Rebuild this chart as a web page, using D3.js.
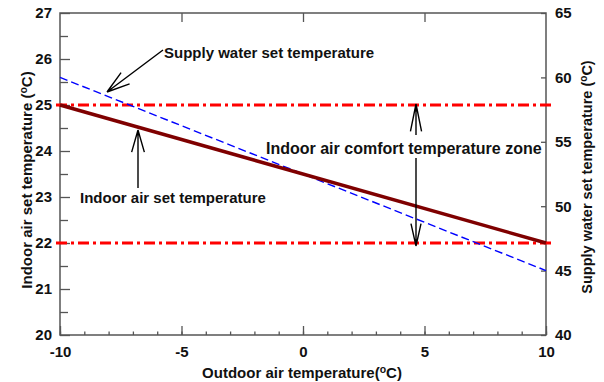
<!DOCTYPE html>
<html>
<head>
<meta charset="utf-8">
<script src="https://cdn.jsdelivr.net/npm/d3@7"></script>
<style>
  body { margin: 0; background: #fff; }
  svg text { font-family: Arial, "Liberation Sans", sans-serif !important; font-weight: 700 !important; fill: #111; }
</style>
</head>
<body>
<svg id="chart" width="604" height="382"></svg>
<script>
// Data
const outdoorTemp = [-10, 10];
const indoorSetTemp = [25, 22];
const supplyWaterTemp = [60, 45];
const comfortBounds = [25, 22];

const xTicks = [-10, -5, 0, 5, 10];
const yLeftTicks = [20, 21, 22, 23, 24, 25, 26, 27];
const yRightTicks = [40, 45, 50, 55, 60, 65];

const margin = { top: 13, right: 58, bottom: 47, left: 60 };
const width = 604 - margin.left - margin.right;
const height = 382 - margin.top - margin.bottom;

const svg = d3.select("#chart");
const g = svg.append("g").attr("transform", `translate(${margin.left},${margin.top})`);

const x = d3.scaleLinear().domain([-10, 10]).range([0, width]);
const yL = d3.scaleLinear().domain([20, 27]).range([height, 0]);
const yR = d3.scaleLinear().domain([40, 65]).range([height, 0]);

const axisColor = "#555";
const plain = d => String(d);

// axes: ticks point inward
function styleAxis(sel) {
  sel.attr("font-family", null).attr("font-size", null);
  sel.select(".domain").remove();
  sel.selectAll(".tick line").attr("stroke", axisColor).attr("stroke-width", 1.3);
  sel.selectAll(".tick text").attr("font-size", 15).attr("fill", "#111");
}

// bottom minor ticks
g.append("g")
  .attr("transform", `translate(0,${height})`)
  .call(d3.axisBottom(x).tickValues(d3.range(-10, 11, 1)).tickSize(-3.5).tickFormat(""))
  .call(styleAxis);
g.append("g")
  .attr("transform", `translate(0,${height})`)
  .call(d3.axisBottom(x).tickValues(xTicks).tickSize(-9).tickPadding(11).tickFormat(plain))
  .call(styleAxis);

// top major ticks only
g.append("g")
  .call(d3.axisTop(x).tickValues(xTicks.slice(1, -1)).tickSize(-9).tickFormat(""))
  .call(styleAxis);

// left axis
g.append("g")
  .call(d3.axisLeft(yL).tickValues(d3.range(20.5, 27, 1)).tickSize(-8).tickFormat(""))
  .call(styleAxis);
g.append("g")
  .call(d3.axisLeft(yL).tickValues(yLeftTicks).tickSize(-10).tickPadding(8).tickFormat(plain))
  .call(styleAxis);

// right axis
g.append("g")
  .attr("transform", `translate(${width},0)`)
  .call(d3.axisRight(yR).tickValues(yRightTicks).tickSize(-5).tickPadding(9).tickFormat(plain))
  .call(styleAxis);

// frame
g.append("rect")
  .attr("width", width).attr("height", height)
  .attr("fill", "none").attr("stroke", axisColor).attr("stroke-width", 1.5);

// comfort zone bounds (red dash-dot)
g.selectAll(".bound")
  .data(comfortBounds)
  .join("line")
  .attr("class", "bound")
  .attr("x1", -4).attr("x2", width + 6)
  .attr("y1", d => yL(d)).attr("y2", d => yL(d))
  .attr("stroke", "#ff0000")
  .attr("stroke-width", 3)
  .attr("stroke-dasharray", "11,4,3,4");

// supply water set temperature (blue dashed, right axis)
const supply = outdoorTemp.map((t, i) => [t, supplyWaterTemp[i]]);
g.append("path")
  .datum(supply)
  .attr("fill", "none")
  .attr("stroke", "#0000ff")
  .attr("stroke-width", 1.4)
  .attr("stroke-dasharray", "8,4")
  .attr("d", d3.line().x(d => x(d[0])).y(d => yR(d[1])));

// indoor air set temperature (dark red, left axis)
const indoor = outdoorTemp.map((t, i) => [t, indoorSetTemp[i]]);
g.append("path")
  .datum(indoor)
  .attr("fill", "none")
  .attr("stroke", "#7f0000")
  .attr("stroke-width", 3.5)
  .attr("d", d3.line().x(d => x(d[0])).y(d => yL(d[1])));

// annotation arrows (open V heads)
function arrow(x1, y1, x2, y2, len, spread) {
  const a = Math.atan2(y1 - y2, x1 - x2);
  const p = d3.path();
  p.moveTo(x1, y1); p.lineTo(x2, y2);
  [a - spread, a + spread].forEach(b => {
    p.moveTo(x2, y2);
    p.lineTo(x2 + len * Math.cos(b), y2 + len * Math.sin(b));
  });
  svg.append("path").attr("d", p.toString())
    .attr("fill", "none").attr("stroke", "#000").attr("stroke-width", 1.4);
}

arrow(163, 50, 107, 92, 24, 0.3);
arrow(138, 188, 138, 130, 23, 0.28);
arrow(416, 135, 416, 104, 28, 0.2);
arrow(416, 158, 416, 246, 23, 0.22);

// annotation texts
svg.append("text").attr("x", 164).attr("y", 57.5).attr("font-size", 15)
  .text("Supply water set temperature");
svg.append("text").attr("x", 80).attr("y", 202.5).attr("font-size", 15)
  .text("Indoor air set temperature");
svg.append("text").attr("x", 266).attr("y", 154).attr("font-size", 16)
  .text("Indoor air comfort temperature zone");

// axis titles
function degTitle(sel, label) {
  sel.append("tspan").text(label + "(");
  sel.append("tspan").attr("font-size", "0.7em").attr("dy", "-0.5em").text("o");
  sel.append("tspan").attr("dy", "0.35em").text("C)");
}

svg.append("text")
  .attr("transform", "translate(32,180) rotate(-90)")
  .attr("text-anchor", "middle").attr("font-size", 15)
  .call(degTitle, "Indoor air set temperature ");

svg.append("text")
  .attr("transform", "translate(592,177) rotate(-90)")
  .attr("text-anchor", "middle").attr("font-size", 14.5)
  .call(degTitle, "Supply water set temperature ");

svg.append("text")
  .attr("x", 302).attr("y", 378)
  .attr("text-anchor", "middle").attr("font-size", 15)
  .call(degTitle, "Outdoor air temperature");
</script>
</body>
</html>
